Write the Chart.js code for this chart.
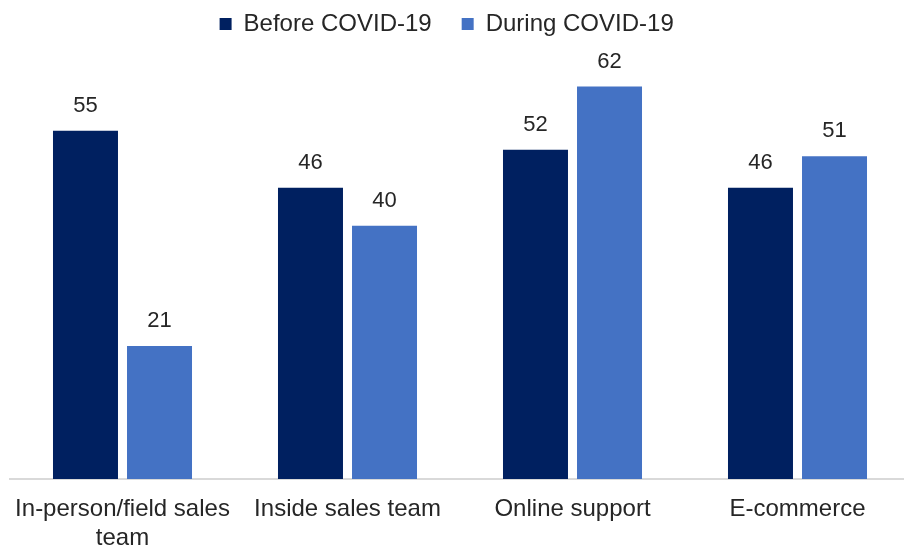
<!DOCTYPE html>
<html>
<head>
<meta charset="utf-8">
<script src="https://cdn.jsdelivr.net/npm/chart.js@4.4.0/dist/chart.umd.min.js"></script>
<style>
  html, body { margin: 0; padding: 0; background: #fff; overflow: hidden; }
  #wrap { width: 910px; height: 561px; }
</style>
</head>
<body>
<div id="wrap"><canvas id="myChart"></canvas></div>
<script>
var categories = [['In-person/field sales', 'team'], 'Inside sales team', 'Online support', 'E-commerce'];
var before = [55, 46, 52, 46];
var during = [21, 40, 62, 51];
var seriesNames = ['Before COVID-19', 'During COVID-19'];

var FONT = '"Liberation Sans", Arial, sans-serif';

// draw the value above each bar
var valueLabels = {
    id: 'valueLabels',
    afterDatasetsDraw: function(chart) {
        var c = chart.ctx;
        c.save();
        c.font = '22px ' + FONT;
        c.fillStyle = '#262626';
        c.textAlign = 'center';
        c.textBaseline = 'middle';
        chart.data.datasets.forEach(function(ds, i) {
            chart.getDatasetMeta(i).data.forEach(function(bar, j) {
                c.fillText(ds.data[j], bar.x, bar.y - 25);
            });
        });
        c.restore();
    }
};

var ctx = document.getElementById('myChart');
var myChart = new Chart(ctx, {
    type: 'bar',
    data: {
        labels: categories,
        datasets: [
            {
                label: seriesNames[0],
                data: before,
                backgroundColor: '#002060'
            },
            {
                label: seriesNames[1],
                data: during,
                backgroundColor: '#4472C4'
            }
        ]
    },
    options: {
        responsive: true,
        maintainAspectRatio: false,
        animation: false,
        categoryPercentage: 0.658,
        barPercentage: 0.878,
        layout: { padding: { left: 10, right: 0, top: 2, bottom: 0 } },
        plugins: {
            legend: {
                position: 'top',
                labels: {
                    boxWidth: 12,
                    boxHeight: 12,
                    padding: 10,
                    color: '#262626',
                    font: { family: FONT, size: 24 },
                    generateLabels: function(chart) {
                        var items = Chart.defaults.plugins.legend.labels.generateLabels(chart);
                        // wider gap between the two entries, and nudge the block left
                        items[0].text = items[0].text + '   ';
                        items[1].text = items[1].text + '    ';
                        return items;
                    }
                }
            },
            tooltip: { enabled: false }
        },
        scales: {
            x: {
                grid: { display: false },
                border: { display: true, color: '#d9d9d9', width: 2 },
                ticks: {
                    color: '#262626',
                    padding: 8,
                    maxRotation: 0,
                    autoSkip: false,
                    font: { family: FONT, size: 24, lineHeight: 1.21 }
                }
            },
            y: {
                display: false,
                min: 0,
                max: 68.4
            }
        }
    },
    plugins: [valueLabels]
});
</script>
</body>
</html>
